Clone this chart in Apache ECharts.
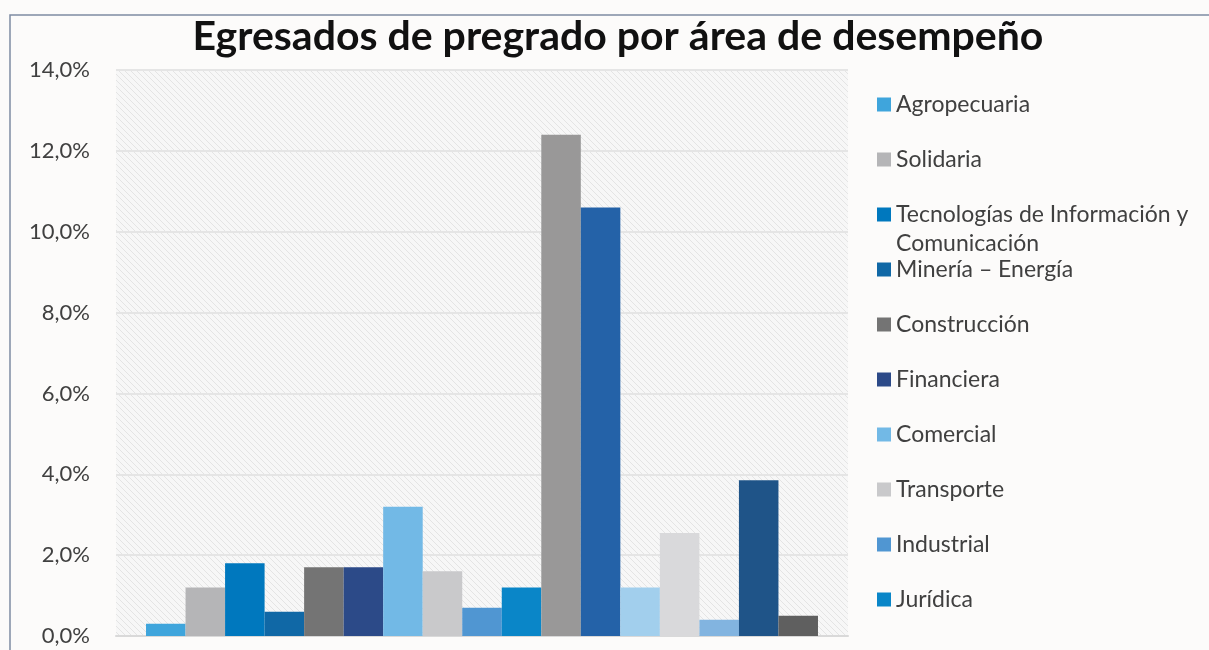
<!DOCTYPE html>
<html>
<head>
<meta charset="utf-8">
<script src="https://cdn.jsdelivr.net/npm/echarts@6/dist/echarts.min.js"></script>
<style>
  html, body { margin: 0; padding: 0; background: #fcfbfa; }
  #main { width: 1209px; height: 650px; }
</style>
</head>
<body>
<div id="main"></div>
<script>
// data (percent)
var names = ['Agropecuaria', 'Solidaria', 'Tecnologías de Información y\nComunicación', 'Minería – Energía',
  'Construcción', 'Financiera', 'Comercial', 'Transporte', 'Industrial', 'Jurídica',
  'Área 11', 'Área 12', 'Área 13', 'Área 14', 'Área 15', 'Área 16', 'Área 17'];
var values = [0.3, 1.2, 1.8, 0.6, 1.7, 1.7, 3.2, 1.6, 0.7, 1.2, 12.4, 10.6, 1.2, 2.55, 0.4, 3.85, 0.5];
var colors = ['#3fa5dc', '#b5b5b7', '#0078be', '#1068a6', '#747474', '#2c4a88', '#72b9e6', '#c9c9cb',
  '#5096d2', '#0a86c8', '#999898', '#2462a8', '#a2cfed', '#d9d9db', '#82b4e0', '#1f5488', '#5f5f5f'];
var shownInLegend = 10;

// diagonal hatch for the plot area
var hatch = document.createElement('canvas');
hatch.width = 6; hatch.height = 6;
var hc = hatch.getContext('2d');
hc.fillStyle = '#f7f7f7';
hc.fillRect(0, 0, 6, 6);
hc.strokeStyle = '#e4e4e4';
hc.lineWidth = 1;
hc.beginPath();
hc.moveTo(-1, -1); hc.lineTo(7, 7);
hc.moveTo(-1, 5); hc.lineTo(1, 7);
hc.moveTo(5, -1); hc.lineTo(7, 1);
hc.stroke();

var chart = echarts.init(document.getElementById('main'));

var series = names.map(function (n, i) {
  return {
    name: n,
    type: 'bar',
    data: [values[i]],
    itemStyle: { color: colors[i] },
    barGap: '0%',
    barCategoryGap: '8.2%'
  };
});

// one legend per entry so every row keeps the same step,
// a wrapped name gets a blank first line so its first line sits next to the icon
var lineH = 29;
var legends = [];
for (var i = 0; i < shownInLegend; i++) {
  var multi = names[i].indexOf('\n') >= 0;
  legends.push({
    data: [names[i]],
    left: 877,
    top: 90 + i * 55 - (multi ? lineH : 0),
    padding: 0,
    itemWidth: 14,
    itemHeight: 14,
    icon: 'rect',
    selectedMode: false,
    formatter: function (n) { return n.indexOf('\n') >= 0 ? ' \n' + n : n; },
    textStyle: {
      fontFamily: 'Lato',
      fontSize: 23,
      color: '#404040',
      lineHeight: lineH
    }
  });
}

chart.setOption({
  backgroundColor: '#fcfbfa',
  animation: false,
  title: {
    text: 'Egresados de pregrado por área de desempeño',
    left: 613,
    textAlign: 'center',
    top: 11,
    textStyle: { fontFamily: 'Lato', fontWeight: 'bold', fontSize: 41, color: '#111' }
  },
  graphic: [{
    type: 'rect',
    shape: { x: 10, y: 15, width: 1300, height: 700 },
    style: { fill: 'none', stroke: '#7d8ca3', lineWidth: 1.5 },
    silent: true
  }],
  legend: legends,
  grid: {
    left: 116, right: 361, top: 70, bottom: 14,
    show: true,
    borderWidth: 0,
    backgroundColor: { image: hatch, repeat: 'repeat' }
  },
  xAxis: {
    type: 'category',
    data: [''],
    axisLine: { lineStyle: { color: '#d9d9d9', width: 2 } },
    axisTick: { show: false },
    axisLabel: { show: false }
  },
  yAxis: {
    type: 'value',
    min: 0, max: 14, interval: 2,
    axisLine: { show: false },
    axisTick: { show: false },
    splitLine: { lineStyle: { color: '#e5e5e5', width: 2 } },
    axisLabel: {
      margin: 26,
      fontFamily: 'Lato',
      fontSize: 22,
      color: '#404040',
      formatter: function (v) { return v.toFixed(1).replace('.', ',') + '%'; }
    }
  },
  series: series
});
</script>
</body>
</html>
